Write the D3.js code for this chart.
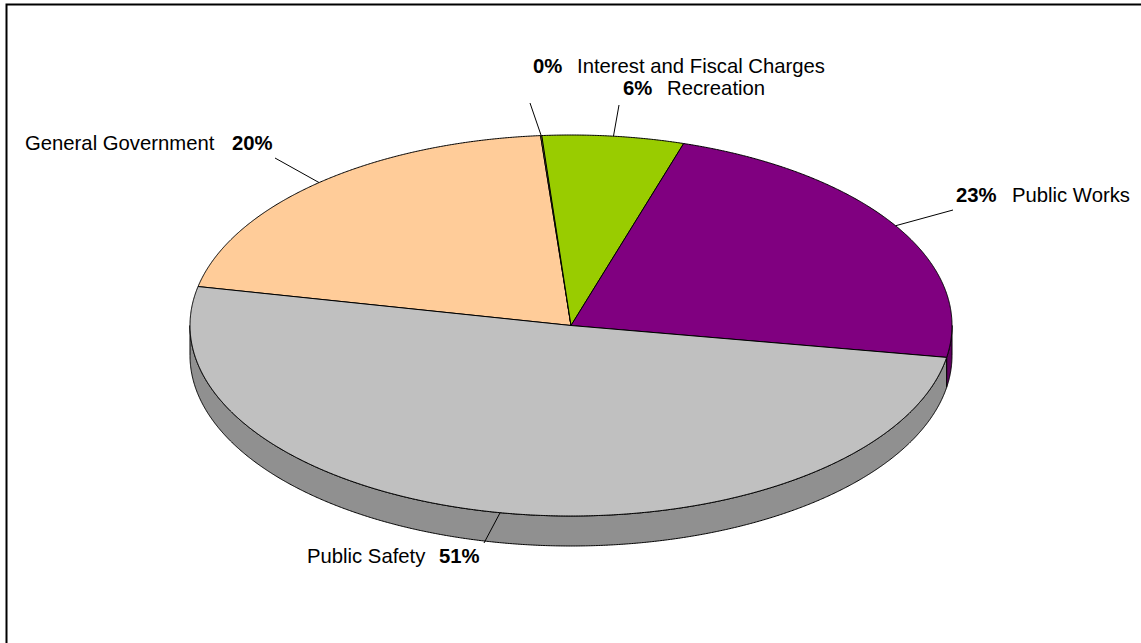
<!DOCTYPE html>
<html>
<head>
<meta charset="utf-8">
<script src="https://cdn.jsdelivr.net/npm/d3@7"></script>
<style>
  html, body { margin: 0; padding: 0; background: #fff; }
  svg { display: block; }
  text { font-family: "Liberation Sans", Arial, sans-serif; font-size: 20.3px; fill: #000; }
  .pct { font-weight: bold; }
</style>
</head>
<body>
<svg id="chart" width="1141" height="643"></svg>
<script>
// ---- data ----
const categories = ["General Government", "Interest and Fiscal Charges", "Recreation", "Public Works", "Public Safety"];
const values = [20.45, 0.05, 6.0, 22.9, 50.6];
const pctLabels = ["20%", "0%", "6%", "23%", "51%"];

// ---- styles ----
const topColors  = ["#FFCC99", "#FFCC99", "#99CC00", "#800080", "#C0C0C0"];
const sideColors = ["#BF9973", "#BF9973", "#739900", "#600060", "#909090"];

// ---- layout ----
const W = 1141, H = 643;
const cx = 571, cy = 325.5, rx = 381, ry = 190.5, depth = 30;
const startDeg = -78.2;
// label layout: x positions, baseline, leader end point
const labelLayout = [
  { nameX: 25,   pctX: 232, y: 150, end: [275, 158] },
  { nameX: 577,  pctX: 533, y: 73,  end: [530, 103] },
  { nameX: 667,  pctX: 623, y: 95,  end: [619, 105] },
  { nameX: 1012, pctX: 956, y: 202, end: [953, 210] },
  { nameX: 307,  pctX: 439, y: 563, end: [484, 543] }
];

const svg = d3.select("#chart");

// frame
svg.append("rect")
  .attr("x", 6.5).attr("y", 4.5)
  .attr("width", W + 20).attr("height", H + 20)
  .attr("fill", "none").attr("stroke", "#000").attr("stroke-width", 2);

const xs = d3.scaleLinear().domain([-1, 1]).range([cx - rx, cx + rx]);
const ys = d3.scaleLinear().domain([-1, 1]).range([cy - ry, cy + ry]);
const pt = (a, dz = 0) => [xs(Math.sin(a)), ys(-Math.cos(a)) + dz];

const pie = d3.pie().sort(null).value(d => d)
  .startAngle(startDeg * Math.PI / 180)
  .endAngle(startDeg * Math.PI / 180 + 2 * Math.PI);
const arcs = pie(values);

const line = d3.line();
const step = Math.PI / 720;
function arcPoints(a0, a1, dz) {
  const n = Math.max(2, Math.ceil(Math.abs(a1 - a0) / step));
  return d3.range(n + 1).map(i => pt(a0 + (a1 - a0) * i / n, dz));
}

const gSide = svg.append("g");
const gTop = svg.append("g");

// visible front side: angles between PI/2 and 3PI/2 (mod 2PI)
arcs.forEach((d, i) => {
  const segs = [];
  [0, 2 * Math.PI, -2 * Math.PI].forEach(off => {
    const a0 = Math.max(d.startAngle + off, Math.PI / 2);
    const a1 = Math.min(d.endAngle + off, 3 * Math.PI / 2);
    if (a1 > a0 + 1e-6) segs.push([a0, a1]);
  });
  segs.forEach(([a0, a1]) => {
    const pts = arcPoints(a0, a1, 0).concat(arcPoints(a1, a0, depth));
    gSide.append("path")
      .attr("d", line(pts) + "Z")
      .attr("fill", sideColors[i])
      .attr("stroke", "#000").attr("stroke-width", 1)
      .attr("stroke-linejoin", "round");
  });
});

// top faces
arcs.forEach((d, i) => {
  const pts = [[cx, cy]].concat(arcPoints(d.startAngle, d.endAngle, 0));
  gTop.append("path")
    .attr("d", line(pts) + "Z")
    .attr("fill", topColors[i])
    .attr("stroke", "#000").attr("stroke-width", 1)
    .attr("stroke-linejoin", "round");
});

// labels and leader lines
const gLab = svg.append("g");
arcs.forEach((d, i) => {
  const L = labelLayout[i];
  const mid = (d.startAngle + d.endAngle) / 2;
  const p = pt(mid, 0);
  gLab.append("line")
    .attr("x1", p[0]).attr("y1", p[1])
    .attr("x2", L.end[0]).attr("y2", L.end[1])
    .attr("stroke", "#000").attr("stroke-width", 1);
  gLab.append("text").attr("x", L.nameX).attr("y", L.y).text(categories[i]);
  gLab.append("text").attr("class", "pct").attr("x", L.pctX).attr("y", L.y).text(pctLabels[i]);
});
</script>
</body>
</html>
